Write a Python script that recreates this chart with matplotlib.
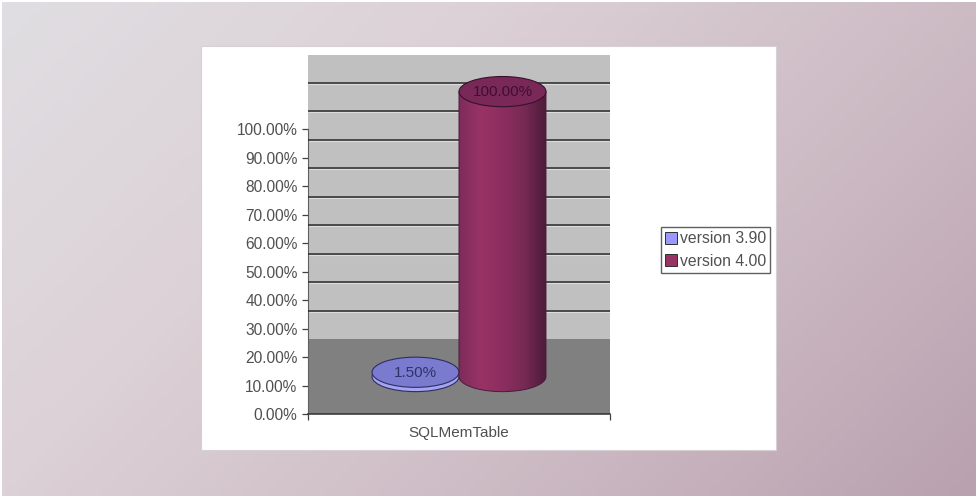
import numpy as np
import matplotlib
matplotlib.use('Agg')
import matplotlib.pyplot as plt
from matplotlib.colors import LinearSegmentedColormap
from matplotlib.patches import Ellipse, Patch, PathPatch, Rectangle
from matplotlib.path import Path
from matplotlib.ticker import FuncFormatter

plt.rcParams['font.family'] = ['Liberation Sans', 'DejaVu Sans']

category = 'SQLMemTable'
series = ['version 3.90', 'version 4.00']
values = [1.5, 100.0]
labels = ['1.50%', '100.00%']
label_cols = ['#33336a', '#3c1030']
yticks = [0, 10, 20, 30, 40, 50, 60, 70, 80, 90, 100]

W, H = 976, 496
depth = 26.3          # floor depth, in axis units
half_depth = depth / 2
bar_x = [-0.144, 0.144]
rx = 0.144
ry = 5.3
text_col = '#505050'

fig = plt.figure(figsize=(W / 100, H / 100), dpi=100)
fig.patch.set_facecolor('white')

# slide background, with the thin white edge on the top and left
bg = fig.add_axes([2 / W, 0, 1 - 2 / W, 1 - 2 / H], zorder=-2)
bg.axis('off')
xx, yy = np.meshgrid(np.linspace(0, 1, 300), np.linspace(0, 1, 150))
grad = (xx * W + yy * H) / (W + H)
bg_cmap = LinearSegmentedColormap.from_list('bg', ['#e0dee2', '#dcd1d6', '#cdbbc4', '#b9a1b0'])
bg.imshow(grad, cmap=bg_cmap, aspect='auto', extent=(0, 1, 0, 1), origin='upper')

# white chart panel
fig.patches.append(Rectangle((201 / W, 1 - 450 / H), 575 / W, 404 / H, transform=fig.transFigure,
                             facecolor='white', edgecolor='#d6d0d4', lw=0.8, zorder=-1))

ax = fig.add_axes([308 / W, 1 - 414 / H, 302 / W, 359 / H], zorder=2)
ax.set_facecolor('none')
ax.set_xlim(-0.5, 0.5)
ax.set_ylim(0, 126)

# wall and floor
ax.axhspan(depth, 126, color='#c0c0c0', lw=0, zorder=1)
ax.axhspan(0, depth, color='#808080', lw=0, zorder=1)
ax.hlines([depth + t - 0.35 for t in yticks[1:-1]], -0.5, 0.5, color='#dcdcdc', lw=0.8, zorder=2)
ax.hlines([depth + t - 0.1 for t in yticks[1:-1]], -0.5, 0.5, color='#2a2a2a', lw=1.1, zorder=3)

# flat disc for version 3.90
x0, v0 = bar_x[0], values[0]
ax.add_patch(Ellipse((x0, half_depth), 2 * rx, 2 * ry, facecolor='#a4a4f0', edgecolor='#2e2e66', lw=0.8, zorder=4))
ax.add_patch(Ellipse((x0, half_depth + v0), 2 * rx, 2 * ry, facecolor='#7a7ace', edgecolor='#2e2e66', lw=0.8, zorder=5))

# cylinder for version 4.00
x1, v1 = bar_x[1], values[1]
ang = np.linspace(np.pi, 2 * np.pi, 60)
px = x1 + rx * np.cos(ang)
py = half_depth + ry * np.sin(ang)
outline = np.vstack([np.column_stack([px, py]), [x1 + rx, half_depth + v1], [x1 - rx, half_depth + v1], [px[0], py[0]]])
body = Path(outline)
body_cmap = LinearSegmentedColormap.from_list('body', ['#7e2c5a', '#993366', '#8c2e60', '#772a55', '#4e1c3a'])
im = ax.imshow(np.linspace(0, 1, 120).reshape(1, -1), cmap=body_cmap, aspect='auto', zorder=6,
               extent=(x1 - rx, x1 + rx, half_depth - ry, half_depth + v1))
patch = PathPatch(body, facecolor='none', edgecolor='#4a1c3c', lw=0.7, zorder=7)
ax.add_patch(patch)
im.set_clip_path(patch)
ax.add_patch(Ellipse((x1, half_depth + v1), 2 * rx, 2 * ry, facecolor='#7a2858', edgecolor='#35122c', lw=0.8, zorder=8))
ax.set_xlim(-0.5, 0.5)
ax.set_ylim(0, 126)

# data labels sit on the cap of each cylinder
for x, v, s, c in zip(bar_x, values, labels, label_cols):
    ax.text(x, half_depth + v - 0.3, s, ha='center', va='center', fontsize=11, color=c, zorder=9)

# axes
ax.set_yticks(yticks)
ax.yaxis.set_major_formatter(FuncFormatter(lambda v, _: f'{v:.2f}%'))
ax.set_xticks([-0.5, 0.5], ['', ''])
ax.tick_params(axis='y', length=4, width=0.9, color='#404040', labelcolor=text_col, labelsize=11.2, pad=3.5)
ax.tick_params(axis='x', length=4, width=0.9, color='#404040')
for side in ['top', 'right']:
    ax.spines[side].set_visible(False)
ax.spines['left'].set_bounds(0, 100)
ax.spines['left'].set_color('#606060')
ax.spines['bottom'].set_color('#303030')
ax.spines['bottom'].set_linewidth(1.1)
ax.text(0, -6.6, category, ha='center', va='center', fontsize=11, color=text_col)

handles = [Patch(facecolor='#9999ff', edgecolor='#303030', lw=0.7),
           Patch(facecolor='#993366', edgecolor='#303030', lw=0.7)]
leg = fig.legend(handles, series, loc='center left', bbox_to_anchor=(661 / W, 1 - 250 / H), fontsize=11.3,
                 fancybox=False, framealpha=1, edgecolor='#606060', labelcolor=text_col, borderpad=0.25,
                 handlelength=0.8, handleheight=0.8, handletextpad=0.15, labelspacing=0.5, borderaxespad=0)
leg.get_frame().set_linewidth(1.0)
leg.set_zorder(5)

fig.savefig('out.png', dpi=100)
